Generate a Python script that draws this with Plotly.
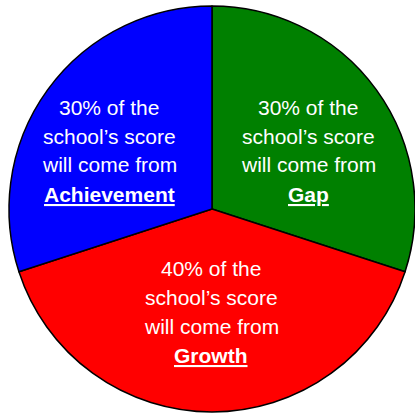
import plotly.graph_objects as go

W, H = 415, 413

# Data
categories = ["Gap", "Growth", "Achievement"]
shares = [30, 40, 30]
colors = ["#008000", "#FF0000", "#0000FF"]
label_lines = [
    ["30% of the", "school\u2019s score", "will come from", "<b><u>Gap</u></b>"],
    ["40% of the", "school\u2019s score", "will come from", "<b><u>Growth</u></b>"],
    ["30% of the", "school\u2019s score", "will come from", "<b><u>Achievement</u></b>"],
]

# Layout of label blocks (pixel centre x, first-line y) and line spacing
block_pos = [(308, 107), (211, 268), (109, 107)]
line_gap = 29

fig = go.Figure(
    go.Pie(
        labels=categories,
        values=shares,
        sort=False,
        direction="clockwise",
        rotation=0,
        textinfo="none",
        hoverinfo="label+percent",
        marker=dict(colors=colors, line=dict(color="black", width=1.5)),
        domain=dict(x=[9 / W, 1.0], y=[1 - 412 / H, 1 - 6 / H]),
        showlegend=False,
    )
)

annotations = []
for lines, (cx, cy) in zip(label_lines, block_pos):
    for i, t in enumerate(lines):
        annotations.append(
            dict(
                x=cx / W,
                y=1 - (cy + i * line_gap) / H,
                xref="paper",
                yref="paper",
                text=t,
                showarrow=False,
                xanchor="center",
                yanchor="middle",
                font=dict(family="Liberation Sans, Arial, sans-serif", size=21, color="white"),
            )
        )

fig.update_layout(
    width=W,
    height=H,
    margin=dict(l=0, r=0, t=0, b=0),
    paper_bgcolor="white",
    plot_bgcolor="white",
    annotations=annotations,
)

fig.write_html(
    "out.html",
    config={"displayModeBar": False},
    post_script="document.body.style.margin='0px';document.body.style.overflow='hidden';",
)
